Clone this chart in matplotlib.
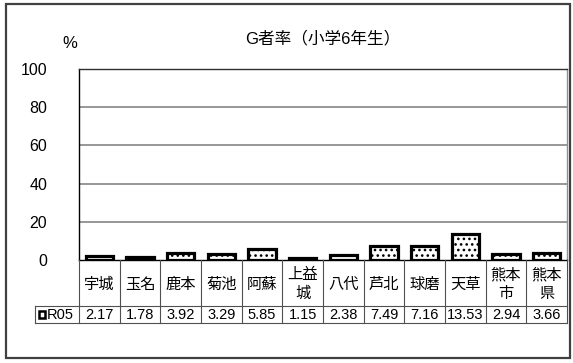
import matplotlib
matplotlib.use("Agg")
import matplotlib.pyplot as plt
from matplotlib.patches import Rectangle

plt.rcParams['font.family'] = ['Liberation Sans', 'Noto Sans CJK JP', 'DejaVu Sans']
plt.rcParams['hatch.linewidth'] = 1.1

categories = ["宇城", "玉名", "鹿本", "菊池", "阿蘇", "上益\n城", "八代", "芦北", "球磨", "天草", "熊本\n市", "熊本\n県"]
values = [2.17, 1.78, 3.92, 3.29, 5.85, 1.15, 2.38, 7.49, 7.16, 13.53, 2.94, 3.66]
value_labels = ["2.17", "1.78", "3.92", "3.29", "5.85", "1.15", "2.38", "7.49", "7.16", "13.53", "2.94", "3.66"]
series_name = "R05"
title = "G者率（小学6年生）"
yticks = [0, 20, 40, 60, 80, 100]

W, H = 573, 363
fig = plt.figure(figsize=(W / 100, H / 100), dpi=100)

def fx(x):
    return x / W

def fy(y):
    return 1 - y / H

# outer frame
fig.patches.append(Rectangle((fx(6), fy(358)), fx(570) - fx(6), fy(4) - fy(358),
                             transform=fig.transFigure, fill=False,
                             edgecolor='#404040', linewidth=1.6))

L, R, T, B = 79, 567, 69, 260
ax = fig.add_axes([fx(L), fy(B), (R - L) / W, (B - T) / H])
n = len(categories)
xs = list(range(n))
ax.set_xlim(-0.5, n - 0.5)
ax.set_ylim(0, 100)
ax.set_yticks(yticks)
ax.set_yticklabels([str(t) for t in yticks], fontsize=11.5)
ax.tick_params(axis='y', length=0, pad=23)
ax.set_xticks([])
for t in yticks[1:-1]:
    ax.axhline(t, color='#7a7a7a', linewidth=1.1, zorder=0)
ax.spines['left'].set_color('black')
ax.spines['left'].set_linewidth(1.0)
ax.spines['bottom'].set_color('black')
ax.spines['bottom'].set_linewidth(1.0)
ax.spines['top'].set_color('#303030')
ax.spines['top'].set_linewidth(1.0)
ax.spines['right'].set_color('#909090')
ax.spines['right'].set_linewidth(1.0)

ax.bar(xs, values, width=0.67, color='white', edgecolor='black',
       linewidth=2.3, hatch='...', zorder=3)

fig.text(fx(323), fy(38), title, ha='center', va='center', fontsize=12,
         family=['Liberation Sans', 'Noto Sans CJK JP'])
fig.text(fx(70), fy(44), "%", ha='center', va='center', fontsize=12)

# data table
TB = 323
tab = fig.add_axes([fx(L), fy(TB), (R - L) / W, (TB - B) / H])
tab.set_xlim(-0.5, n - 0.5)
tab.set_ylim(TB, B)
tab.axis('off')
col_w = (R - L) / n
leg_left = -0.5 - (L - 35) / col_w
row_sep = 306
lc = '#505050'
for k in range(n + 1):
    tab.plot([-0.5 + k, -0.5 + k], [B, TB], color=lc, linewidth=0.8, clip_on=False)
tab.plot([leg_left, n - 0.5], [row_sep, row_sep], color=lc, linewidth=0.8, clip_on=False)
tab.plot([leg_left, n - 0.5], [TB, TB], color=lc, linewidth=0.8, clip_on=False)
tab.plot([leg_left, leg_left], [row_sep, TB], color=lc, linewidth=0.8, clip_on=False)

for i, (c, v) in enumerate(zip(categories, value_labels)):
    tab.text(i, (B + row_sep) / 2 + 1, c, ha='center', va='center', fontsize=11,
             family=['Noto Sans CJK JP'], linespacing=1.1)
    tab.text(i, (row_sep + TB) / 2 + 0.5, v, ha='center', va='center', fontsize=10.5,
             family=['Liberation Sans Narrow', 'Liberation Sans'])

# legend key
key_x0 = leg_left + 4.5 / col_w
key_w = 6 / col_w
kc = (row_sep + TB) / 2
tab.add_patch(Rectangle((key_x0, kc - 3.2), key_w, 6.4, facecolor='white',
                        edgecolor='black', linewidth=1.8, clip_on=False))
tab.text(key_x0 + key_w + 1.2 / col_w, kc + 0.5, series_name, ha='left', va='center',
         fontsize=10.5, family=['Liberation Sans Narrow', 'Liberation Sans'])

fig.savefig("out.png", dpi=100)
